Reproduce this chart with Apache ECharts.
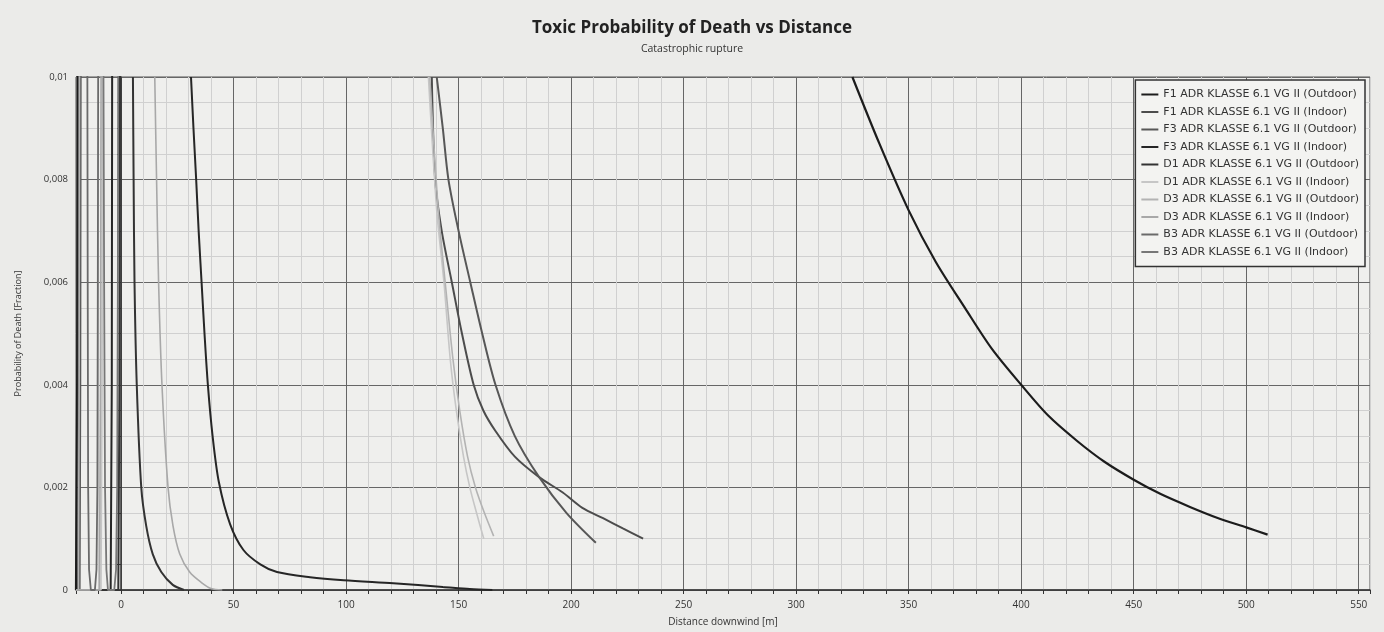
<!DOCTYPE html>
<html>
<head>
<meta charset="utf-8">
<title>Toxic Probability of Death vs Distance</title>
<script src="https://cdn.jsdelivr.net/npm/echarts@6/dist/echarts.min.js"></script>
<style>
  html, body { margin: 0; padding: 0; background: #ebebe9; }
  #chart { width: 1384px; height: 632px; }
</style>
</head>
<body>
<div id="chart"></div>
<script>
// series names (legend order)
const seriesNames = [
  'F1 ADR KLASSE 6.1 VG II (Outdoor)',
  'F1 ADR KLASSE 6.1 VG II (Indoor)',
  'F3 ADR KLASSE 6.1 VG II (Outdoor)',
  'F3 ADR KLASSE 6.1 VG II (Indoor)',
  'D1 ADR KLASSE 6.1 VG II (Outdoor)',
  'D1 ADR KLASSE 6.1 VG II (Indoor)',
  'D3 ADR KLASSE 6.1 VG II (Outdoor)',
  'D3 ADR KLASSE 6.1 VG II (Indoor)',
  'B3 ADR KLASSE 6.1 VG II (Outdoor)',
  'B3 ADR KLASSE 6.1 VG II (Indoor)'
]

// [distance m, probability]
// near-source rise (left of the peak, which runs off the top of the plot)
const f1OutdoorRise = [[-20, 0], [-19.7, 0], [-19.5, 0.004], [-19.3, 0.0115]]
const f1IndoorRise = [[-20, 0], [-19.1, 0], [-18.8, 0.004], [-18.6, 0.0115]]
const f3OutdoorRise = [[-20, 0], [-18.4, 0], [-18.1, 0.004], [-17.9, 0.0115]]
const f3IndoorRise = [[-20, 0], [-4.6, 0], [-4.1, 0.004], [-3.9, 0.0115]]
const d1OutdoorRise = [[-20, 0], [-1.2, 0], [-0.7, 0.004], [-0.4, 0.0115]]
const d1IndoorRise = [[-20, 0], [-8.9, 0], [-8.4, 0.004], [-8.1, 0.0115]]
const d3OutdoorRise = [[-20, 0], [-18.9, 0], [-18.6, 0.004], [-18.4, 0.0115]]
const d3IndoorRise = [[-20, 0], [-9.6, 0], [-9.1, 0.004], [-8.8, 0.0115]]

// downwind fall-off, from the top of the plot
const f1Outdoor = [[325, 0.0100], [337, 0.0087], [350, 0.0074], [362, 0.0064], [375, 0.0055],
  [387, 0.0047], [400, 0.0040], [412, 0.0034], [425, 0.0029], [437, 0.0025], [450, 0.00215],
  [462, 0.00187], [475, 0.00162], [487, 0.00141], [500, 0.00122], [509.5, 0.00108]]
const f1Indoor = [[138.1, 0.0100], [139.6, 0.0080], [142.5, 0.0070], [147, 0.0060],
  [151.5, 0.0050], [156.7, 0.0040], [161, 0.0035], [166.4, 0.0031], [175, 0.0026],
  [185.8, 0.0022], [196.3, 0.0019], [205, 0.0016], [214.2, 0.0014], [223, 0.0012], [232, 0.0010]]
const f3Outdoor = [[140.3, 0.0100], [143, 0.0090], [145.5, 0.0080], [150, 0.0070],
  [155.2, 0.0060], [160.5, 0.0050], [166.4, 0.0040], [175, 0.0030], [185.8, 0.0022],
  [198, 0.0015], [211, 0.00092]]
const f3Indoor = [[31.1, 0.0100], [32.2, 0.0090], [33.4, 0.0080], [34.5, 0.0070], [35.8, 0.0060],
  [37.1, 0.0050], [38.6, 0.0040], [40.7, 0.0030], [43.5, 0.0021], [48.5, 0.00128],
  [54.4, 0.00078], [61.9, 0.0005], [69.3, 0.00035], [84, 0.00025], [99, 0.00019],
  [121, 0.00013], [143, 0.00006], [155, 0.00002], [165, 0]]
const d1Outdoor = [[5.3, 0.0100], [5.6, 0.0080], [6, 0.0060], [7, 0.0040], [9, 0.0020],
  [11.2, 0.00125], [14.1, 0.0007], [17.9, 0.00035], [23, 0.0001], [28, 0]]
const d1Indoor = [[136.6, 0.0100], [140.3, 0.0074], [143.5, 0.0060], [146.3, 0.0045],
  [149, 0.0035], [152.2, 0.0026], [155, 0.0020], [158, 0.0015], [161.2, 0.0010]]
const d3Outdoor = [[137.2, 0.0100], [141, 0.0074], [144.5, 0.0058], [147.5, 0.0045],
  [150.5, 0.0035], [154, 0.0026], [157.5, 0.0020], [161.5, 0.0015], [165.6, 0.00105]]
const d3Indoor = [[15, 0.0100], [15.8, 0.0080], [16.7, 0.0060], [18.2, 0.0040], [20.9, 0.0020],
  [23.1, 0.00125], [26.1, 0.0007], [30.5, 0.00035], [35.6, 0.00015], [40, 0.00003], [45, 0]]
const b3Outdoor = [[-15.0, 0.0115], [-14.8, 0.006], [-14.6, 0.002], [-14.2, 0.0004],
  [-13.4, 0], [-11.6, 0], [-10.9, 0.0004], [-10.5, 0.002], [-10.3, 0.006], [-10.1, 0.0115]]
const b3Indoor = [[-7.9, 0.0115], [-7.5, 0.006], [-7.1, 0.002], [-6.5, 0.0004], [-5.8, 0],
  [-3, 0], [-2.2, 0.0004], [-1.7, 0.002], [-1.4, 0.006], [-1.2, 0.0115]]

const fallData = [f1Outdoor, f1Indoor, f3Outdoor, f3Indoor, d1Outdoor,
  d1Indoor, d3Outdoor, d3Indoor, b3Outdoor, b3Indoor]
const riseData = [f1OutdoorRise, f1IndoorRise, f3OutdoorRise, f3IndoorRise, d1OutdoorRise,
  d1IndoorRise, d3OutdoorRise, d3IndoorRise, null, null]
const seriesColors = ['#1c1c1c', '#4c4c4c', '#575757', '#262626', '#333333',
  '#c6c6c6', '#b3b3b3', '#a8a8a8', '#6a6a6a', '#777777']
const seriesWidths = [2.2, 2, 2, 2, 2, 1.6, 1.6, 1.6, 1.8, 1.8]

const major = '#666666'
const minor = '#d0d0d0'

let myChart = echarts.init(document.getElementById('chart'))

let series = []
for (let i = 0; i < seriesNames.length; i++) {
  series.push({
    name: seriesNames[i],
    type: 'line',
    showSymbol: false,
    clip: true,
    smooth: i < 8 ? 0.3 : false,
    color: seriesColors[i],
    lineStyle: { color: seriesColors[i], width: seriesWidths[i] },
    data: fallData[i],
  })
  if (riseData[i]) {
    // same name -> shares the legend entry
    series.push({
      name: seriesNames[i],
      type: 'line',
      showSymbol: false,
      clip: true,
      color: seriesColors[i],
      lineStyle: { color: seriesColors[i], width: seriesWidths[i] },
      data: riseData[i],
    })
  }
}

let option = {
  backgroundColor: '#ebebe9',
  animation: false,
  textStyle: { fontFamily: 'Open Sans' },
  title: {
    text: 'Toxic Probability of Death vs Distance',
    subtext: 'Catastrophic rupture',
    left: 'center',
    top: 15,
    itemGap: 7,
    textStyle: { fontSize: 17, fontWeight: 'bold', color: '#222', fontFamily: 'Open Sans' },
    subtextStyle: { fontSize: 10.5, color: '#333', fontFamily: 'Open Sans' },
  },
  legend: {
    orient: 'vertical',
    right: 19,
    top: 80,
    icon: 'rect',
    itemWidth: 17,
    itemHeight: 2,
    itemGap: 6.5,
    padding: [9, 6, 9, 6],
    backgroundColor: '#f3f3f1',
    borderColor: '#333',
    borderWidth: 1.5,
    textStyle: { fontSize: 11, color: '#333', fontFamily: 'DejaVu Sans' },
    data: seriesNames,
  },
  grid: {
    left: 76,
    right: 14,
    top: 77,
    bottom: 38,
    show: true,
    backgroundColor: '#efefed',
    borderColor: '#555',
    borderWidth: 1,
  },
  xAxis: {
    type: 'value',
    min: -20,
    max: 555,
    interval: 10,
    name: 'Distance downwind [m]',
    nameLocation: 'middle',
    nameGap: 27,
    nameTextStyle: { fontSize: 10, color: '#333' },
    axisLine: { show: true, onZero: false, lineStyle: { color: '#333', width: 1.5 } },
    axisTick: { show: true, length: 4, lineStyle: { color: '#333' } },
    axisLabel: {
      fontSize: 10,
      color: '#333',
      margin: 10,
      formatter: (v) => (v % 50 === 0 ? String(v) : ''),
    },
    splitLine: { show: true, lineStyle: { color: [minor, minor, major, minor, minor], width: 1 } },
  },
  yAxis: {
    type: 'value',
    min: 0,
    max: 0.01,
    interval: 0.0005,
    name: 'Probability of Death [Fraction]',
    nameLocation: 'middle',
    nameGap: 53,
    nameTextStyle: { fontSize: 9, color: '#333' },
    axisLine: { show: true, lineStyle: { color: '#333', width: 1.5 } },
    axisTick: { show: true, length: 4, lineStyle: { color: '#333' } },
    axisLabel: {
      fontSize: 9.5,
      color: '#333',
      margin: 8,
      formatter: (v) => {
        let k = Math.round(v * 10000)
        if (k % 20 !== 0) return ''
        if (k === 0) return '0'
        return String(+(v.toFixed(4))).replace('.', ',')
      },
    },
    splitLine: { show: true, lineStyle: { color: [major, minor, minor, minor], width: 1 } },
  },
  series: series,
}

myChart.setOption(option)
window.addEventListener('resize', myChart.resize)
</script>
</body>
</html>
